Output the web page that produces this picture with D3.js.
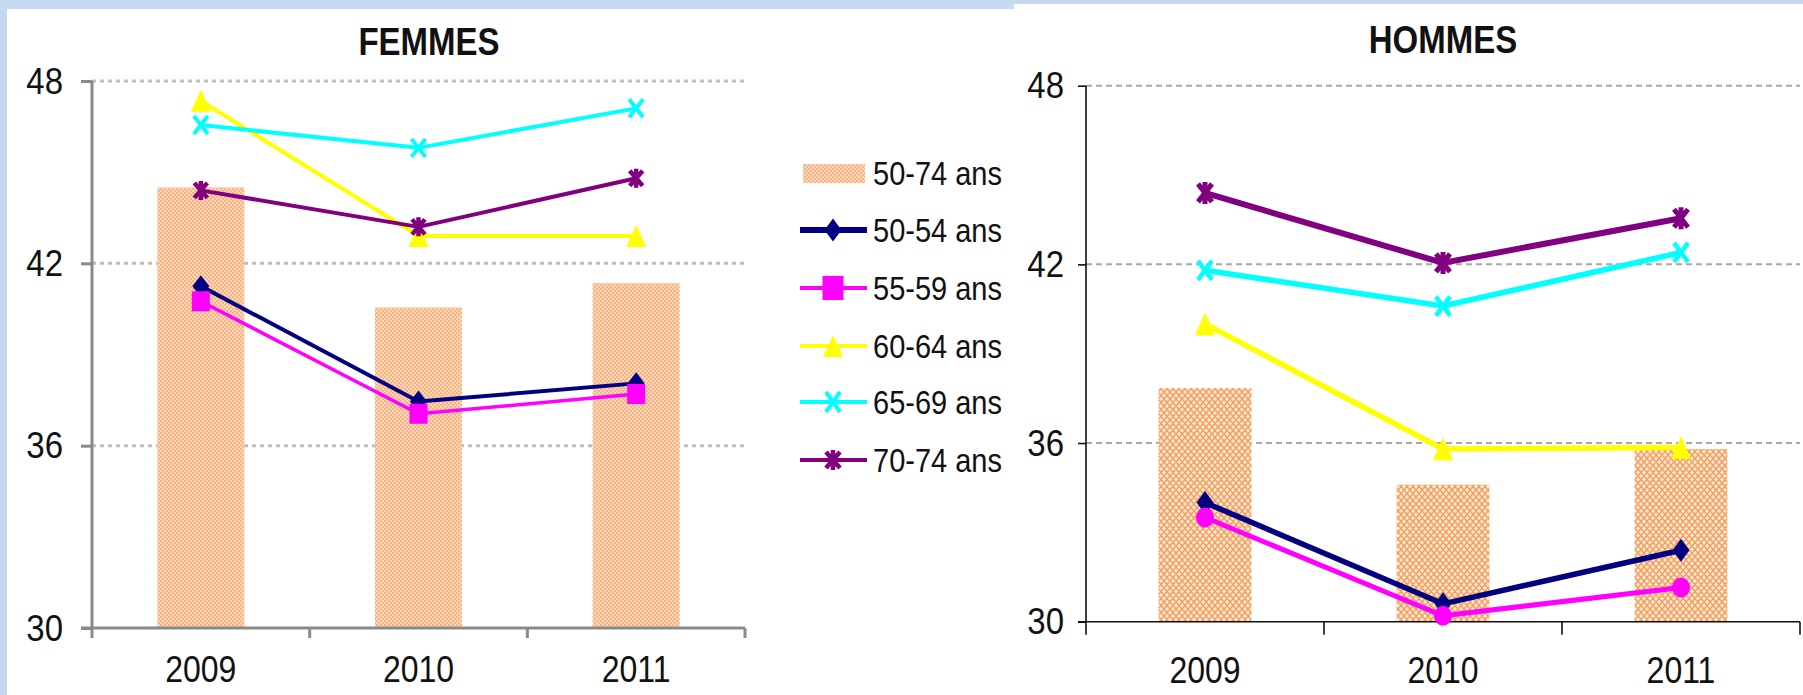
<!DOCTYPE html>
<html>
<head>
<meta charset="utf-8">
<script src="https://cdn.jsdelivr.net/npm/d3@7"></script>
<style>
  html, body { margin: 0; padding: 0; background: #c6d9f1; }
  svg { display: block; }
  text { font-family: "Liberation Sans", Arial, sans-serif; fill: #111; }
</style>
</head>
<body>
<svg id="chart" width="1803" height="695"></svg>
<script>
// ---- data ----
const years = ["2009", "2010", "2011"];
const ageGroups = ["50-54 ans", "55-59 ans", "60-64 ans", "65-69 ans", "70-74 ans"];
const barLabel = "50-74 ans";
const yTicks = [30, 36, 42, 48];

const femmesTotal = [44.5, 40.55, 41.35];
const femmes5054 = [41.25, 37.45, 38.05];
const femmes5559 = [40.75, 37.05, 37.7];
const femmes6064 = [47.35, 42.9, 42.9];
const femmes6569 = [46.55, 45.8, 47.1];
const femmes7074 = [44.4, 43.2, 44.8];

const hommesTotal = [37.85, 34.6, 35.8];
const hommes5054 = [34.0, 30.6, 32.4];
const hommes5559 = [33.5, 30.2, 31.15];
const hommes6064 = [40.0, 35.8, 35.85];
const hommes6569 = [41.8, 40.6, 42.4];
const hommes7074 = [44.4, 42.05, 43.55];

// ---- styling ----
const seriesColors = ["#000080", "#ff00ff", "#ffff00", "#00ffff", "#800080"];

const svg = d3.select("#chart");
const defs = svg.append("defs");

// peach checker fill (left panel bars)
const pF = defs.append("pattern").attr("id", "fillF")
  .attr("patternUnits", "userSpaceOnUse").attr("width", 4).attr("height", 4);
pF.append("rect").attr("width", 4).attr("height", 4).attr("fill", "#fcd6b8");
pF.append("rect").attr("width", 2).attr("height", 2).attr("fill", "#f8b583");
pF.append("rect").attr("x", 2).attr("y", 2).attr("width", 2).attr("height", 2).attr("fill", "#f8b583");

// orange lattice fill (right panel bars)
const pH = defs.append("pattern").attr("id", "fillH")
  .attr("patternUnits", "userSpaceOnUse").attr("width", 6).attr("height", 7);
pH.append("rect").attr("width", 6).attr("height", 7).attr("fill", "#fde6d3");
pH.append("path").attr("d", "M0,0L6,7M6,0L0,7M-1,6L1,8M5,-1L7,1")
  .attr("stroke", "#f59b55").attr("stroke-width", 1.4);

// panels
svg.append("rect").attr("x", 7).attr("y", 9).attr("width", 1007).attr("height", 686).attr("fill", "#fff");
svg.append("rect").attr("x", 1014).attr("y", 4).attr("width", 789).attr("height", 691).attr("fill", "#fff");

// ---- marker shapes ----
function drawMarker(g, kind, cx, cy, color, s) {
  const w = s.w, h = s.h;
  if (kind === "diamond") {
    g.append("path").attr("d", `M${cx},${cy - h / 2}L${cx + w / 2},${cy}L${cx},${cy + h / 2}L${cx - w / 2},${cy}Z`)
      .attr("fill", color);
  } else if (kind === "square") {
    g.append("rect").attr("x", cx - w / 2).attr("y", cy - h / 2).attr("width", w).attr("height", h).attr("fill", color);
  } else if (kind === "circle") {
    g.append("ellipse").attr("cx", cx).attr("cy", cy).attr("rx", w / 2).attr("ry", h / 2).attr("fill", color);
  } else if (kind === "triangle") {
    g.append("path").attr("d", `M${cx},${cy - h / 2}L${cx + w / 2},${cy + h / 2}L${cx - w / 2},${cy + h / 2}Z`)
      .attr("fill", color);
  } else if (kind === "x") {
    g.append("path").attr("d", `M${cx - w / 2 + 2},${cy - h / 2 + 2}L${cx + w / 2 - 2},${cy + h / 2 - 2}M${cx + w / 2 - 2},${cy - h / 2 + 2}L${cx - w / 2 + 2},${cy + h / 2 - 2}`)
      .attr("stroke", color).attr("stroke-width", s.sw || 4).attr("fill", "none");
  } else if (kind === "star") {
    g.append("path").attr("d", `M${cx - w / 2 + 2},${cy - h / 2 + 2}L${cx + w / 2 - 2},${cy + h / 2 - 2}M${cx + w / 2 - 2},${cy - h / 2 + 2}L${cx - w / 2 + 2},${cy + h / 2 - 2}M${cx},${cy - h / 2}L${cx},${cy + h / 2}`)
      .attr("stroke", color).attr("stroke-width", s.sw || 4.5).attr("fill", "none");
  }
}

function stretched(g, str, x, y, size, sy, opts = {}) {
  return g.append("text")
    .attr("transform", `translate(${x},${y}) scale(1,${sy})`)
    .attr("text-anchor", opts.anchor || "start")
    .attr("font-size", size)
    .attr("font-weight", opts.weight || "normal")
    .text(str);
}

// ---- one panel ----
function drawPanel(cfg) {
  const g = svg.append("g");
  const x = d3.scaleBand().domain(years).range([cfg.x0, cfg.x1]);
  const y = d3.scaleLinear().domain([30, 48]).range([cfg.yb, cfg.yt]);

  // horizontal gridlines
  g.append("g").selectAll("line").data(yTicks.filter(v => v > 30)).join("line")
    .attr("x1", cfg.x0).attr("x2", cfg.x1)
    .attr("y1", d => y(d)).attr("y2", d => y(d))
    .attr("stroke", cfg.gridColor).attr("stroke-width", cfg.gridW)
    .attr("stroke-dasharray", cfg.gridDash);

  // bars for the whole 50-74 group
  const bw = x.bandwidth() * cfg.barFrac;
  g.append("g").selectAll("rect").data(cfg.total).join("rect")
    .attr("x", (d, i) => x(years[i]) + x.bandwidth() / 2 - bw / 2)
    .attr("y", d => y(d))
    .attr("width", bw)
    .attr("height", d => y(30) - y(d))
    .attr("fill", `url(#${cfg.pattern})`);

  // y axis
  const ya = g.append("g").attr("transform", `translate(${cfg.x0},0)`)
    .call(d3.axisLeft(y).tickValues(yTicks).tickSize(cfg.tick).tickPadding(cfg.labelPad).tickFormat(d3.format("d")));
  ya.select(".domain").remove();
  ya.selectAll(".tick line").attr("stroke", cfg.axisColor).attr("stroke-width", cfg.axisW);
  ya.selectAll(".tick text").attr("font-size", 33).attr("fill", "#111")
    .attr("font-family", "Liberation Sans, Arial, sans-serif")
    .attr("dy", "0.33em").attr("transform", "scale(1,1.12)");
  g.append("line").attr("x1", cfg.x0).attr("x2", cfg.x0).attr("y1", y(48)).attr("y2", y(30) + cfg.xTick)
    .attr("stroke", cfg.axisColor).attr("stroke-width", cfg.axisW);

  // x axis
  g.append("line").attr("x1", cfg.x0 - cfg.tick).attr("x2", cfg.x1).attr("y1", y(30)).attr("y2", y(30))
    .attr("stroke", cfg.axisColor).attr("stroke-width", cfg.axisW);
  const bounds = years.map(d => x(d) + x.bandwidth());
  g.append("g").selectAll("line").data(bounds).join("line")
    .attr("x1", d => d).attr("x2", d => d).attr("y1", y(30)).attr("y2", y(30) + cfg.xTick)
    .attr("stroke", cfg.axisColor).attr("stroke-width", cfg.axisW);
  const xa = g.append("g").attr("transform", `translate(0,${y(30)})`)
    .call(d3.axisBottom(x).tickSize(0).tickPadding(0));
  xa.select(".domain").remove();
  xa.selectAll(".tick text").attr("font-size", 32).attr("fill", "#111")
    .attr("font-family", "Liberation Sans, Arial, sans-serif")
    .attr("y", cfg.xLabelOff / 1.15).attr("dy", 0).attr("transform", "scale(1,1.15)");

  // lines with markers
  const line = d3.line().x((d, i) => x(years[i]) + x.bandwidth() / 2).y(d => y(d));
  cfg.series.forEach((vals, k) => {
    g.append("path").datum(vals).attr("d", line)
      .attr("fill", "none").attr("stroke", seriesColors[k])
      .attr("stroke-width", cfg.lineW[k]).attr("stroke-linejoin", "round");
    const mg = g.append("g");
    vals.forEach((v, i) => drawMarker(mg, cfg.markers[k], x(years[i]) + x.bandwidth() / 2, y(v), seriesColors[k], cfg.markerSize[k]));
  });

  // title
  stretched(g, cfg.title, cfg.titleX, cfg.titleY, 33, 1.2, { anchor: "middle", weight: "bold" });
}

drawPanel({
  title: "FEMMES", titleX: 429, titleY: 55,
  x0: 92, x1: 745, yt: 81, yb: 628,
  tick: 11, xTick: 10, labelPad: 18, xLabelOff: 54,
  axisColor: "#8a8a8a", axisW: 3,
  gridColor: "#bdbdbd", gridW: 3, gridDash: "4,4",
  barFrac: 0.4, pattern: "fillF",
  total: femmesTotal,
  series: [femmes5054, femmes5559, femmes6064, femmes6569, femmes7074],
  markers: ["diamond", "square", "triangle", "x", "star"],
  markerSize: [{ w: 17, h: 22 }, { w: 18, h: 20 }, { w: 20, h: 22 }, { w: 18, h: 22 }, { w: 17, h: 19 }],
  lineW: [4, 3.5, 4, 4, 4]
});

drawPanel({
  title: "HOMMES", titleX: 1443, titleY: 53,
  x0: 1086, x1: 1800, yt: 85.7, yb: 621.7,
  tick: 8, xTick: 13, labelPad: 14, xLabelOff: 61,
  axisColor: "#111", axisW: 1.6,
  gridColor: "#a8a8a8", gridW: 2, gridDash: "6,4",
  barFrac: 0.39, pattern: "fillH",
  total: hommesTotal,
  series: [hommes5054, hommes5559, hommes6064, hommes6569, hommes7074],
  markers: ["diamond", "circle", "triangle", "x", "star"],
  markerSize: [{ w: 17, h: 23 }, { w: 18, h: 20 }, { w: 20, h: 23 }, { w: 18, h: 23, sw: 4.5 }, { w: 18, h: 22, sw: 5 }],
  lineW: [5.5, 5, 5.5, 5.5, 6]
});

// ---- legend ----
const lg = svg.append("g");
const rowY = [173, 230, 288, 346, 402, 460];
lg.append("rect").attr("x", 803).attr("y", 164).attr("width", 62).attr("height", 19).attr("fill", "url(#fillF)");
stretched(lg, barLabel, 873, rowY[0] + 12, 29, 1.15);
const legendMarkers = ["diamond", "square", "triangle", "x", "star"];
const legendSizes = [{ w: 17, h: 23 }, { w: 21, h: 24 }, { w: 20, h: 22 }, { w: 18, h: 24 }, { w: 18, h: 20 }];
ageGroups.forEach((name, k) => {
  const cy = rowY[k + 1];
  lg.append("line").attr("x1", 800).attr("x2", 867).attr("y1", cy).attr("y2", cy)
    .attr("stroke", seriesColors[k]).attr("stroke-width", k === 0 ? 6 : 4);
  drawMarker(lg, legendMarkers[k], 833, cy, seriesColors[k], legendSizes[k]);
  stretched(lg, name, 873, cy + 12, 29, 1.15);
});
</script>
</body>
</html>
